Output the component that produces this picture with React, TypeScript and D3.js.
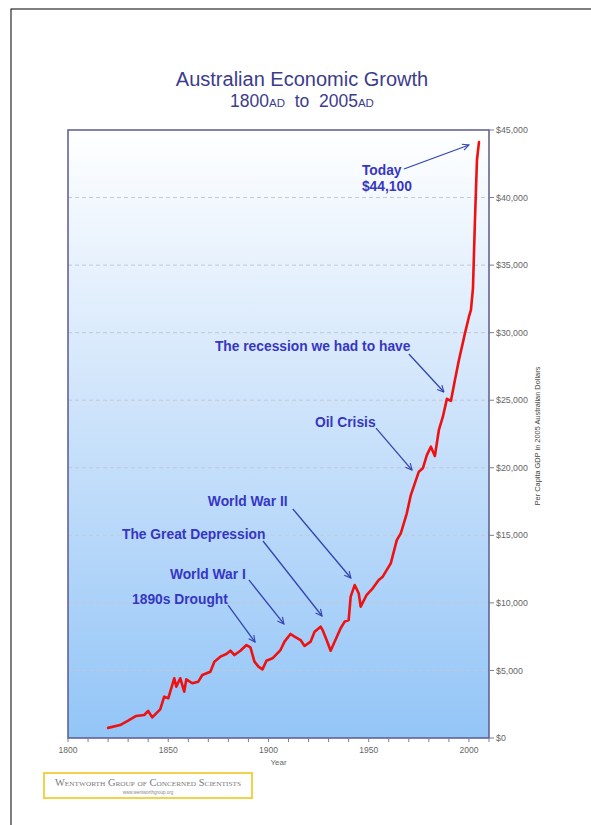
import React from "react";
import * as d3 from "d3";

// Per-capita GDP in 2005 Australian dollars
const YEARS = [
  1820, 1826, 1830, 1834, 1838, 1840, 1842, 1846, 1848, 1850,
  1853, 1854, 1856, 1858, 1859, 1862, 1865, 1867, 1871, 1873,
  1876, 1879, 1881, 1883, 1886, 1889, 1891, 1893, 1895, 1897,
  1899, 1902, 1906, 1908, 1911, 1913, 1916, 1918, 1921, 1923,
  1926, 1927, 1929, 1931, 1933, 1936, 1938, 1940, 1941, 1943,
  1945, 1946, 1949, 1952, 1955, 1957, 1960, 1961, 1964, 1966,
  1969, 1971, 1973, 1975, 1977, 1979, 1981, 1983, 1985, 1987,
  1989, 1991, 1993, 1995, 1998, 2000, 2001, 2002, 2003, 2004,
  2005,
];
const GDP = [
  750, 960, 1280, 1630, 1700, 2000, 1530, 2120, 3060, 2940,
  4420, 3800, 4420, 3430, 4340, 4050, 4170, 4660, 4900, 5650,
  6020, 6220, 6460, 6140, 6460, 6880, 6700, 5650, 5280, 5080,
  5720, 5900, 6510, 7130, 7700, 7500, 7250, 6810, 7130, 7870,
  8240, 7990, 7250, 6460, 7130, 8120, 8610, 8730, 10460, 11320,
  10710, 9720, 10600, 11080, 11700, 11940, 12680, 12930, 14650, 15150,
  16630, 17980, 18850, 19710, 19960, 20940, 21560, 20870, 22800, 23780,
  25100, 24950, 26500, 27980, 29950, 31180, 31680, 33280, 38340, 42780,
  44100,
];

const Y_TICKS = [0, 5000, 10000, 15000, 20000, 25000, 30000, 35000, 40000, 45000];
const X_LABELS = [1800, 1850, 1900, 1950, 2000];
const X_MINOR = d3.range(1800, 2011, 10);

// Event annotations: arrow target in data space, label/arrow tail as pixel offsets
const EVENT_TEXT = [
  "1890s Drought",
  "World War I",
  "The Great Depression",
  "World War II",
  "Oil Crisis",
  "The recession we had to have",
];
const EVENT_YEAR = [1893.3, 1907.7, 1926.7, 1941.1, 1971.6, 1987.5];
const EVENT_VALUE = [7100, 8440, 9030, 11840, 19830, 25610];
const EVENT_TAIL = [[-27, -37], [-35, -44], [-59, -75], [-58, -69], [-36, -42], [-35, -38]];
const EVENT_LABEL = [[-123, -38], [-114, -45], [-200, -77], [-143, -72], [-97, -43], [-229, -41]];

const W = 591;
const H = 825;
const PLOT = { left: 68, right: 489, top: 130, bottom: 738 };
const SANS = "'Liberation Sans', Arial, Helvetica, sans-serif";
const NOTE_BLUE = "#3636c4";
const ARROW_BLUE = "#3444b0";

export default function App() {
  const x = d3.scaleLinear().domain([1800, 2010]).range([PLOT.left, PLOT.right]);
  const y = d3.scaleLinear().domain([0, 45000]).range([PLOT.bottom, PLOT.top]);

  const pts: [number, number][] = YEARS.map((yr, i) => [yr, GDP[i]]);
  const line = d3
    .line<[number, number]>()
    .x((d) => x(d[0]))
    .y((d) => y(d[1]))
    .curve(d3.curveLinear);

  const fmt = d3.format("$,");
  const last = pts[pts.length - 1];
  const todayX = x(2000);
  const todayY = y(43890);

  return (
    <svg
      width={W}
      height={H}
      viewBox={`0 0 ${W} ${H}`}
      style={{ position: "absolute", left: 0, top: 0, background: "#fff" }}
    >
      <defs>
        <linearGradient id="plotBg" x1="0" y1="0" x2="0" y2="1">
          <stop offset="0%" stopColor="#ffffff" />
          <stop offset="45%" stopColor="#cfe4fb" />
          <stop offset="100%" stopColor="#93c5f7" />
        </linearGradient>
        <marker
          id="arrowHead"
          viewBox="0 0 10 10"
          refX="9"
          refY="5"
          markerWidth="8"
          markerHeight="8"
          orient="auto"
          markerUnits="userSpaceOnUse"
        >
          <path d="M1,1 L9,5 L1,9" fill="none" stroke={ARROW_BLUE} strokeWidth="1.4" />
        </marker>
      </defs>

      {/* page frame */}
      <rect x={11} y={9} width={700} height={900} fill="none" stroke="#000" strokeWidth={1} />

      {/* title */}
      <text x={302} y={86} textAnchor="middle" fontFamily={SANS} fontSize={20} fill="#3c3c8c">
        Australian Economic Growth
      </text>
      <text
        x={302}
        y={107}
        textAnchor="middle"
        fontFamily={SANS}
        fontSize={17.5}
        fill="#3c3c8c"
        style={{ whiteSpace: "pre" }}
      >
        1800<tspan fontSize={11.5}>AD</tspan>
        {"  to  "}
        2005<tspan fontSize={11.5}>AD</tspan>
      </text>

      {/* plot area */}
      <rect
        x={PLOT.left}
        y={PLOT.top}
        width={PLOT.right - PLOT.left}
        height={PLOT.bottom - PLOT.top}
        fill="url(#plotBg)"
      />

      {/* gridlines */}
      {Y_TICKS.filter((t) => t > 0 && t < 45000).map((t) => (
        <line
          key={`g${t}`}
          x1={PLOT.left}
          x2={PLOT.right}
          y1={y(t)}
          y2={y(t)}
          stroke="#c3c8d6"
          strokeWidth={1}
          strokeDasharray="4,3"
        />
      ))}

      {/* frame */}
      <rect
        x={PLOT.left}
        y={PLOT.top}
        width={PLOT.right - PLOT.left}
        height={PLOT.bottom - PLOT.top}
        fill="none"
        stroke="#5a5a8e"
        strokeWidth={1.5}
      />

      {/* right axis */}
      {Y_TICKS.map((t) => (
        <g key={`y${t}`}>
          <line x1={PLOT.right} x2={PLOT.right + 5} y1={y(t)} y2={y(t)} stroke="#7a7a9a" strokeWidth={1} />
          <text
            x={PLOT.right + 7}
            y={y(t)}
            dy="0.35em"
            fontFamily={SANS}
            fontSize={8.8}
            fill="#666"
          >
            {fmt(t)}
          </text>
        </g>
      ))}
      <text
        transform={`translate(540,${436}) rotate(-90)`}
        textAnchor="middle"
        fontFamily={SANS}
        fontSize={7.4}
        fill="#444"
      >
        Per Capita GDP in 2005 Australian Dollars
      </text>

      {/* bottom axis */}
      {X_MINOR.map((yr) => (
        <line
          key={`xt${yr}`}
          x1={x(yr)}
          x2={x(yr)}
          y1={PLOT.bottom}
          y2={PLOT.bottom + 4}
          stroke="#7a7a9a"
          strokeWidth={1}
        />
      ))}
      {X_LABELS.map((yr) => (
        <text
          key={`xl${yr}`}
          x={x(yr)}
          y={753}
          textAnchor="middle"
          fontFamily={SANS}
          fontSize={8.5}
          fill="#666"
        >
          {yr}
        </text>
      ))}
      <text x={(PLOT.left + PLOT.right) / 2} y={765} textAnchor="middle" fontFamily={SANS} fontSize={8} fill="#666">
        Year
      </text>

      {/* series */}
      <path
        d={line(pts) ?? ""}
        fill="none"
        stroke="#ee1111"
        strokeWidth={2.6}
        strokeLinejoin="round"
        strokeLinecap="round"
      />

      {/* event annotations */}
      {EVENT_TEXT.map((label, i) => {
        const tx = x(EVENT_YEAR[i]);
        const ty = y(EVENT_VALUE[i]);
        return (
          <g key={label}>
            <line
              x1={tx + EVENT_TAIL[i][0]}
              y1={ty + EVENT_TAIL[i][1]}
              x2={tx}
              y2={ty}
              stroke={ARROW_BLUE}
              strokeWidth={1.3}
              markerEnd="url(#arrowHead)"
            />
            <text
              x={tx + EVENT_LABEL[i][0]}
              y={ty + EVENT_LABEL[i][1]}
              fontFamily={SANS}
              fontWeight="bold"
              fontSize={13.8}
              fill={NOTE_BLUE}
            >
              {label}
            </text>
          </g>
        );
      })}

      {/* latest value callout */}
      <line
        x1={todayX - 65}
        y1={todayY + 24}
        x2={todayX}
        y2={todayY}
        stroke={ARROW_BLUE}
        strokeWidth={1.3}
        markerEnd="url(#arrowHead)"
      />
      <text x={todayX - 107} y={todayY + 30} fontFamily={SANS} fontWeight="bold" fontSize={13.8} fill={NOTE_BLUE}>
        Today
      </text>
      <text x={todayX - 107} y={todayY + 46} fontFamily={SANS} fontWeight="bold" fontSize={13.8} fill={NOTE_BLUE}>
        {fmt(last[1])}
      </text>

      {/* logo */}
      <rect x={44} y={773} width={208} height={25} fill="#fff" stroke="#f2d24a" strokeWidth={2} />
      <text
        x={148}
        y={786}
        textAnchor="middle"
        fontFamily="'Liberation Serif', 'DejaVu Serif', serif"
        fontSize={10}
        fill="#7a7a7a"
        style={{ fontVariant: "small-caps" }}
        textLength={186}
        lengthAdjust="spacingAndGlyphs"
      >
        Wentworth Group of Concerned Scientists
      </text>
      <text x={148} y={794} textAnchor="middle" fontFamily={SANS} fontSize={4.5} fill="#888">
        www.wentworthgroup.org
      </text>
    </svg>
  );
}
